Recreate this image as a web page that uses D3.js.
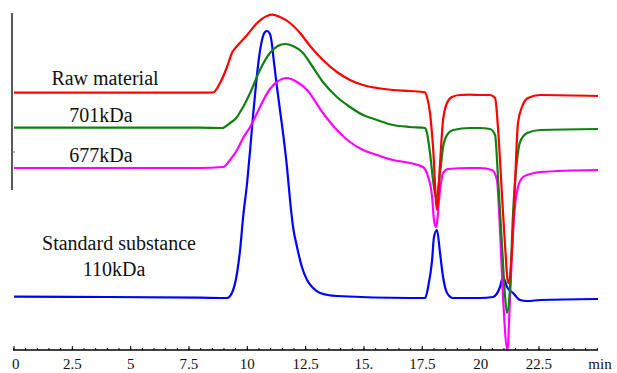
<!DOCTYPE html>
<html>
<head>
<meta charset="utf-8">
<script src="https://cdn.jsdelivr.net/npm/d3@7"></script>
<style>
  html, body { margin: 0; padding: 0; background: #fff; }
  svg { display: block; }
  text { font-family: "Liberation Serif", "Times New Roman", serif; fill: #111; }
</style>
</head>
<body>
<svg id="chart" width="617" height="373"></svg>
<script>
// ── Data (time in min, response in arbitrary units) ───────────────────────
const rawMaterial = [
  [0, 257.3], [7.97, 257.3], [8.53, 257.5], [8.83, 267], [9.13, 283], [9.34, 297],
  [9.60, 305], [9.99, 315], [10.42, 327], [10.84, 334], [11.06, 335.3], [11.40, 333],
  [11.83, 327], [12.26, 317], [12.69, 304], [13.24, 290], [13.84, 278], [14.40, 270],
  [14.96, 265], [15.56, 262], [16.25, 260], [16.97, 259], [17.62, 257.7], [17.70, 253],
  [17.83, 237], [17.96, 203], [18.13, 140], [18.26, 187], [18.39, 230], [18.56, 247],
  [18.77, 253], [19.12, 255], [19.55, 255.3], [19.97, 255], [20.40, 255], [20.62, 252],
  [20.75, 220], [20.92, 153], [21.05, 103], [21.18, 67], [21.35, 103], [21.48, 170],
  [21.60, 227], [21.77, 243], [22.03, 252], [22.55, 255], [25.03, 254]
];
const kDa701 = [
  [0, 222.3], [7.97, 222.3], [8.92, 222], [9.26, 227], [9.56, 233], [9.69, 238],
  [9.82, 243], [10.12, 257], [10.54, 280], [10.97, 297], [11.40, 305], [11.62, 306],
  [11.96, 304], [12.39, 297], [12.69, 287], [13.24, 268], [13.84, 253], [14.40, 243],
  [14.96, 235], [15.56, 230], [16.25, 225], [16.97, 223], [17.62, 222], [17.70, 217],
  [17.83, 197], [17.96, 170], [18.09, 152], [18.26, 177], [18.39, 203], [18.56, 215],
  [18.82, 220], [19.55, 222], [19.97, 222], [20.40, 221], [20.62, 215], [20.75, 170],
  [20.92, 103], [21.05, 53], [21.13, 37], [21.26, 63], [21.39, 137], [21.56, 190],
  [21.69, 208], [21.99, 217], [22.55, 220], [25.03, 221]
];
const kDa677 = [
  [0, 182], [7.97, 182], [8.96, 183], [9.26, 190], [9.56, 200], [9.82, 212],
  [10.12, 223], [10.42, 237], [10.67, 249], [10.97, 261], [11.27, 268], [11.70, 272],
  [12.13, 268], [12.56, 260], [13.24, 237], [13.84, 220], [14.40, 208], [14.96, 200],
  [15.56, 195], [16.25, 190], [16.97, 187], [17.53, 183], [17.75, 173], [17.92, 153],
  [18.00, 130], [18.09, 123], [18.26, 160], [18.39, 177], [18.60, 181], [19.55, 182],
  [19.97, 182], [20.49, 180], [20.70, 170], [20.83, 120], [20.96, 53], [21.15, 0],
  [21.26, 53], [21.39, 120], [21.60, 163], [21.82, 173], [22.12, 176], [22.55, 178],
  [25.03, 180]
];
const standard110 = [
  [0, 53.3], [4.00, 53], [7.97, 52.3], [9.13, 52], [9.34, 57], [9.56, 77], [9.69, 100],
  [9.82, 133], [9.99, 167], [10.12, 200], [10.24, 233], [10.37, 265], [10.50, 292],
  [10.63, 310], [10.76, 318], [10.84, 319], [10.97, 316], [11.06, 305], [11.14, 288],
  [11.27, 263], [11.40, 240], [11.53, 217], [11.70, 183], [11.83, 150], [11.96, 123],
  [12.13, 103], [12.34, 83], [12.56, 70], [12.82, 62], [13.12, 57], [13.84, 54],
  [16.97, 52], [17.62, 52], [17.75, 63], [17.92, 90], [18.00, 113], [18.13, 120],
  [18.26, 97], [18.39, 73], [18.56, 57], [18.82, 52], [19.97, 52], [20.53, 53],
  [20.83, 63], [20.96, 73], [21.13, 63], [21.39, 57], [21.69, 50], [21.99, 49],
  [22.55, 50], [25.03, 51]
];

const majorTicks = [0, 2.5, 5, 7.5, 10, 12.5, 15, 17.5, 20, 22.5];
const tickLabels = ["0", "2.5", "5", "7.5", "10", "12.5", "15.", "17.5", "20", "22.5"];
const minorTicks = d3.range(0, 25.01, 0.5);

const series = [
  { name: "Standard substance", data: standard110, color: "#0000ff" },
  { name: "677kDa",             data: kDa677,      color: "#ff00ff" },
  { name: "701kDa",             data: kDa701,      color: "#108010" },
  { name: "Raw material",       data: rawMaterial, color: "#ff0000" }
];

const labels = [
  { text: "Raw material",       x: 105, y: 85 },
  { text: "701kDa",             x: 101, y: 122 },
  { text: "677kDa",             x: 101, y: 162 },
  { text: "Standard substance", x: 119, y: 250 },
  { text: "110kDa",             x: 114, y: 276 }
];

// ── Scales ────────────────────────────────────────────────────────────────
const svg = d3.select('#chart');
const x = d3.scaleLinear().domain([0, 25.03]).range([14, 598]);
const y = d3.scaleLinear().domain([0, 350]).range([350, 0]);

// Left vertical line with its lone tick
svg.append('line').attr('x1', 12).attr('x2', 12).attr('y1', 13).attr('y2', 190)
  .attr('stroke', '#000').attr('stroke-width', 1.3);
svg.append('line').attr('x1', 12).attr('x2', 15).attr('y1', 152).attr('y2', 152)
  .attr('stroke', '#666').attr('stroke-width', 1);

// ── Traces ────────────────────────────────────────────────────────────────
const line = d3.line().x(d => x(d[0])).y(d => y(d[1])).curve(d3.curveMonotoneX);
svg.append('g').selectAll('path').data(series).join('path')
  .attr('d', s => line(s.data))
  .attr('fill', 'none')
  .attr('stroke', s => s.color)
  .attr('stroke-width', 2.2)
  .attr('stroke-linejoin', 'round');

// ── X axis ────────────────────────────────────────────────────────────────
const axisY = 350;
const gx = svg.append('g').attr('transform', `translate(0,${axisY})`);
gx.append('line').attr('x1', x(0) - 1).attr('x2', x(25.03)).attr('y1', 0).attr('y2', 0)
  .attr('stroke', '#000').attr('stroke-width', 1.3);
gx.selectAll('line.minor').data(minorTicks).join('line').attr('class', 'minor')
  .attr('x1', d => x(d)).attr('x2', d => x(d)).attr('y1', 0).attr('y2', -2)
  .attr('stroke', '#000').attr('stroke-width', 1);
gx.selectAll('line.major').data(majorTicks).join('line').attr('class', 'major')
  .attr('x1', d => x(d)).attr('x2', d => x(d)).attr('y1', 0).attr('y2', -4)
  .attr('stroke', '#000').attr('stroke-width', 1);
gx.selectAll('text').data(majorTicks).join('text')
  .attr('x', d => x(d)).attr('y', 19)
  .attr('text-anchor', (d, i) => i === 0 ? 'start' : 'middle')
  .attr('dx', (d, i) => i === 0 ? -2 : 0)
  .style('font-size', '15px')
  .text((d, i) => tickLabels[i]);
gx.append('text').attr('x', 600).attr('y', 19).attr('text-anchor', 'middle')
  .style('font-size', '15px').text('min');

// ── Trace labels ──────────────────────────────────────────────────────────
svg.append('g').selectAll('text').data(labels).join('text')
  .attr('x', d => d.x).attr('y', d => d.y)
  .attr('text-anchor', 'middle')
  .style('font-size', '20px')
  .text(d => d.text);
</script>
</body>
</html>
